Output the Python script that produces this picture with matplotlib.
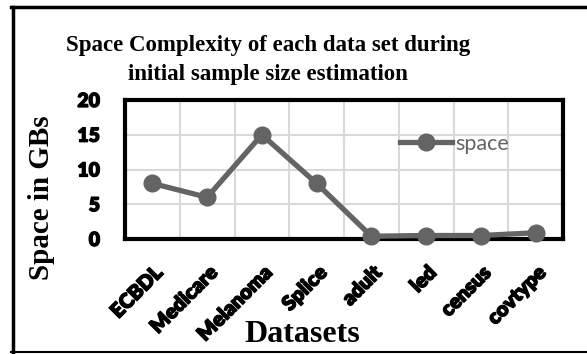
import matplotlib
matplotlib.use("Agg")
import matplotlib.pyplot as plt
from matplotlib.lines import Line2D
import matplotlib.patheffects as pe

categories = ["ECBDL", "Medicare", "Melanoma", "Splice", "adult", "led", "census", "covtype"]
space = [8, 6, 15, 8, 0.4, 0.5, 0.5, 0.9]
yticks = [0, 5, 10, 15, 20]

W, H = 587, 354
fig = plt.figure(figsize=(W / 100, H / 100), dpi=100)
ax = fig.add_axes([125 / W, 1 - 239 / H, (563 - 125) / W, (239 - 100) / H])

x = list(range(len(categories)))
ax.plot(x, space, color="#646464", linewidth=3.8, marker="o", markersize=12,
        label="space", zorder=3, clip_on=False)

ax.set_xlim(-0.5, len(categories) - 0.5)
ax.set_ylim(0, 20)
ax.set_yticks(yticks)
ax.set_yticklabels([str(v) for v in yticks], fontsize=14, fontweight="heavy", family="Lato")
for lab in ax.get_yticklabels():
    lab.set_path_effects([pe.withStroke(linewidth=0.9, foreground="black")])
ax.set_xticks(x)
ax.set_xticklabels(categories, rotation=45, ha="right", rotation_mode="anchor",
                   fontsize=14.5, fontweight="heavy", family="Lato")
for lab in ax.get_xticklabels():
    lab.set_path_effects([pe.withStroke(linewidth=1.0, foreground="black")])
ax.set_xticks([i + 0.5 for i in x[:-1]], minor=True)
ax.tick_params(axis="both", which="both", length=0)
ax.tick_params(axis="x", pad=17)
ax.tick_params(axis="y", pad=18)
ax.grid(True, which="minor", axis="x", color="#d9d9d9", linewidth=1.5)
ax.grid(True, which="major", axis="y", color="#d9d9d9", linewidth=1.5)
ax.set_axisbelow(True)
for s in ax.spines.values():
    s.set_linewidth(3)
    s.set_color("black")

ax.set_ylabel("Space in GBs", family="Liberation Serif", fontweight="bold", fontsize=21,
              va="center")
ax.yaxis.set_label_coords(-(125 - 42) / 438, 0.5 - (198 - 169.5) / 139)
ax.set_xlabel("Datasets", family="Liberation Serif", fontweight="bold", fontsize=23, va="center")
ax.xaxis.set_label_coords((302 - 125) / 438, -(335 - 239) / 139)

leg = ax.legend(loc="center left", bbox_to_anchor=((400 - 125) / 438, (239 - 144) / 139),
                frameon=False, prop={"family": "Lato", "size": 15.5}, handlelength=2.4,
                handletextpad=0.15, borderpad=0, borderaxespad=0)
for t in leg.get_texts():
    t.set_color("#646464")

fig.text(268 / W, 1 - 60 / H, "Space Complexity of each data set during\ninitial sample size estimation",
         ha="center", va="center", family="Liberation Serif", fontweight="bold", fontsize=16.5,
         linespacing=1.5)

# outer border
fig.add_artist(Line2D([12.5 / W, 12.5 / W], [1 - 6.5 / H, 1 - 352 / H], color="black", linewidth=2.5,
                      transform=fig.transFigure))
fig.add_artist(Line2D([11 / W, 1.0], [1 - 6.5 / H, 1 - 6.5 / H], color="black", linewidth=2.5,
                      transform=fig.transFigure))
fig.add_artist(Line2D([11 / W, 1.0], [1 - 352 / H, 1 - 352 / H], color="black", linewidth=1.5,
                      transform=fig.transFigure))

fig.savefig("out.png", dpi=100)
